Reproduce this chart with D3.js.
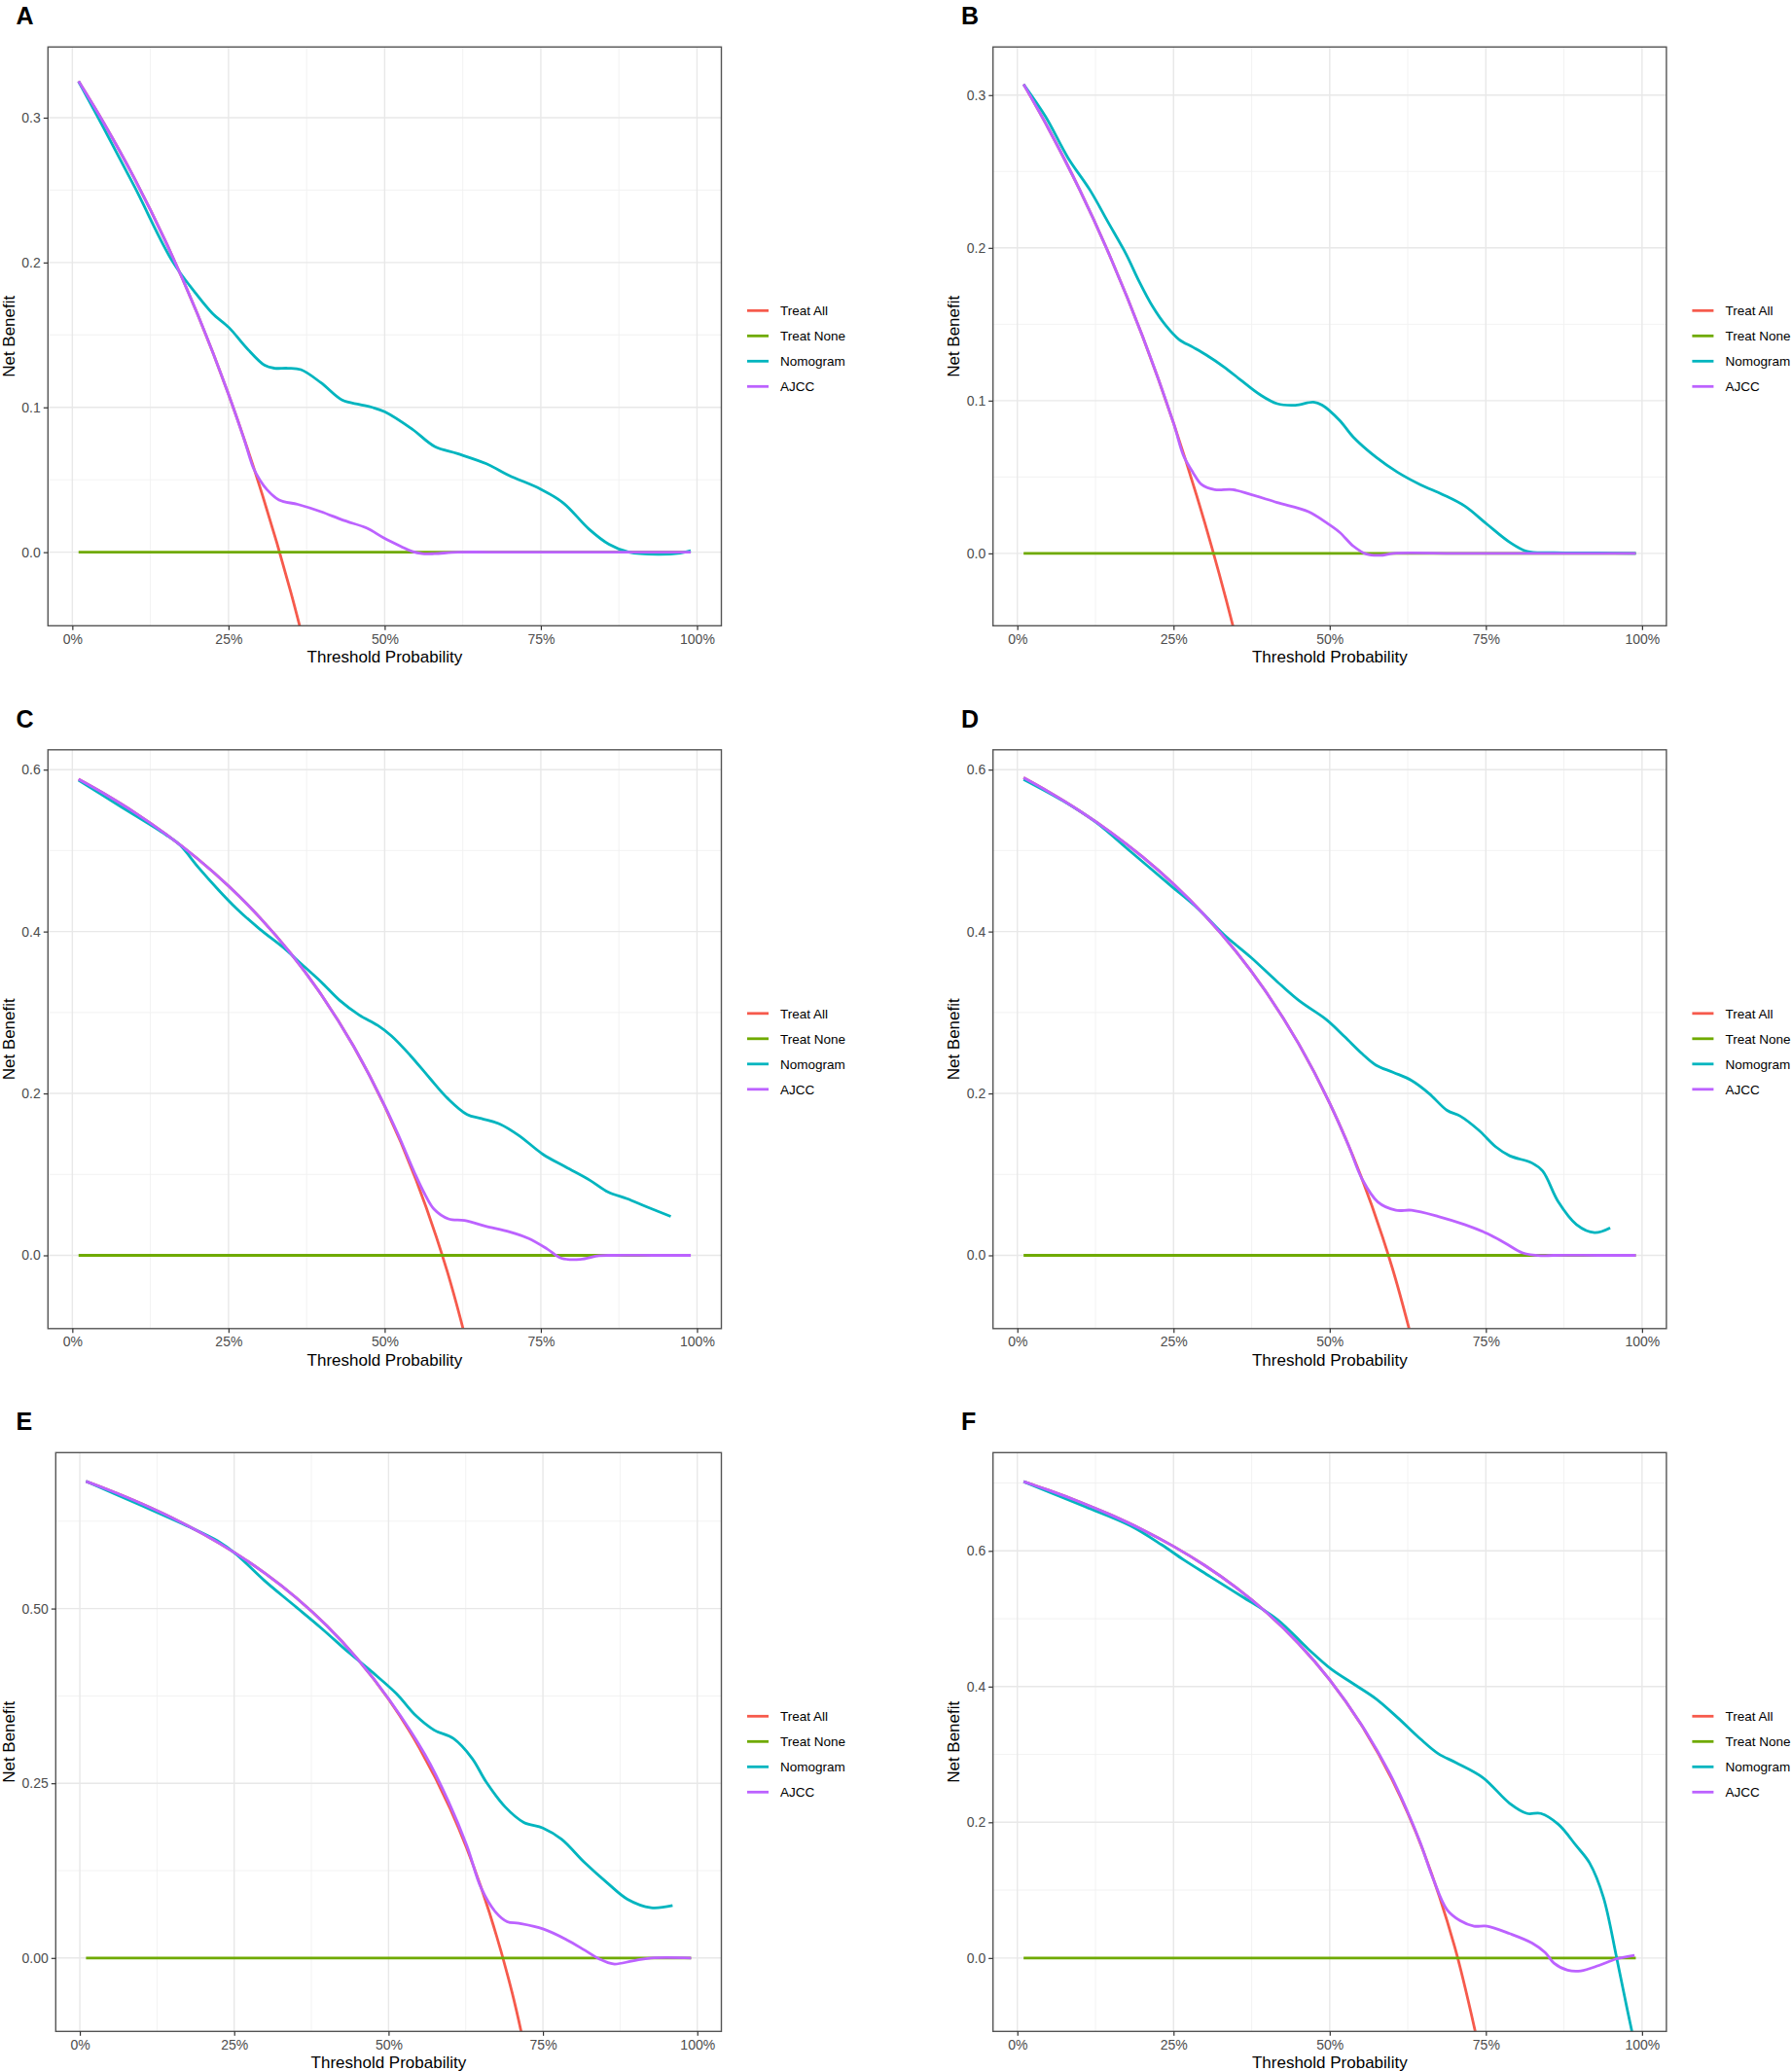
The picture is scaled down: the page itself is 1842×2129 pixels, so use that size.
<!DOCTYPE html>
<html>
<head>
    <meta charset="utf-8">
    <script src="https://cdn.jsdelivr.net/npm/d3@7"></script>
    <style>
        body { margin: 0; background: #ffffff; }
        svg { display: block; font-family: "Liberation Sans", Arial, Helvetica, sans-serif; }
        .grid-major { stroke: #e8e8e8; stroke-width: 1.4; }
        .grid-minor { stroke: #f0f0f0; stroke-width: 0.9; }
        .border { fill: none; stroke: #555555; stroke-width: 1.4; }
        .axis text { font-size: 14px; fill: #4d4d4d; }
        .axis line { stroke: #333333; stroke-width: 1.2; }
        .axis-title { font-size: 17px; fill: #000000; }
        .legend-label { font-size: 13.5px; fill: #000000; }
        .panel-tag { font-size: 25px; font-weight: bold; fill: #000000; }
        .curve { fill: none; stroke-width: 2.8; stroke-linejoin: round; stroke-linecap: butt; }
    </style>
</head>
<body>
<div id="chart"></div>
<script>
    // series shared by every panel
    var seriesNames = ['Treat All', 'Treat None', 'Nomogram', 'AJCC'];
    var seriesColors = ['#F65A4C', '#6FAA00', '#00B5BF', '#BC62FF'];

    var xTicks = [0, 0.25, 0.5, 0.75, 1];
    var xTickLabels = ['0%', '25%', '50%', '75%', '100%'];
    var xMinor = [0.125, 0.375, 0.625, 0.875];
    var xLimits = [-0.039, 1.039];

    var treatNone = [[0.01, 0], [0.99, 0]];

    // panel A
    var treatAllA = [[0.01, 0.3251], [0.05, 0.2966], [0.10, 0.2576], [0.15, 0.2139], [0.20, 0.1648],
                     [0.25, 0.1091], [0.30, 0.0454], [0.35, -0.0280], [0.40, -0.1137]];
    var nomogramA = [[0.01, 0.325], [0.05, 0.293], [0.10, 0.252], [0.16, 0.201], [0.197, 0.179],
                     [0.224, 0.165], [0.251, 0.155], [0.279, 0.141], [0.308, 0.129], [0.324, 0.127],
                     [0.345, 0.127], [0.366, 0.126], [0.398, 0.117], [0.432, 0.105], [0.46, 0.102],
                     [0.48, 0.100], [0.50, 0.097], [0.544, 0.085], [0.58, 0.073], [0.617, 0.068],
                     [0.663, 0.061], [0.699, 0.053], [0.75, 0.0435], [0.786, 0.034], [0.827, 0.016],
                     [0.859, 0.0055], [0.891, 0.0], [0.937, -0.0015], [0.973, -0.0006], [0.99, 0.001]];
    var ajccA = [[0.01, 0.3251], [0.05, 0.2966], [0.10, 0.2576], [0.15, 0.2139], [0.20, 0.1648],
                 [0.25, 0.1091], [0.275, 0.078], [0.29, 0.058], [0.30, 0.050], [0.311, 0.0435],
                 [0.331, 0.036], [0.361, 0.033], [0.398, 0.028], [0.434, 0.022], [0.471, 0.0167],
                 [0.498, 0.010], [0.526, 0.004], [0.544, 0.0005], [0.56, -0.001], [0.58, -0.001],
                 [0.617, 0], [0.70, 0], [0.80, 0], [0.90, 0], [0.99, 0]];
    var yTicksA = [0, 0.1, 0.2, 0.3];
    var yMinorA = [0.05, 0.15, 0.25];
    var yLimitsA = [-0.0508, 0.3488];

    // panel B
    var treatAllB = [[0.01, 0.3071], [0.05, 0.2779], [0.10, 0.2378], [0.15, 0.1929], [0.20, 0.1425],
                     [0.25, 0.0853], [0.30, 0.0200], [0.35, -0.0554], [0.40, -0.1433]];
    var nomogramB = [[0.01, 0.307], [0.045, 0.286], [0.081, 0.259], [0.116, 0.238], [0.145, 0.217],
                     [0.174, 0.196], [0.195, 0.178], [0.216, 0.162], [0.238, 0.149], [0.259, 0.140],
                     [0.281, 0.135], [0.302, 0.130], [0.331, 0.122], [0.359, 0.113], [0.388, 0.104],
                     [0.416, 0.098], [0.445, 0.097], [0.474, 0.099], [0.488, 0.097], [0.516, 0.087],
                     [0.538, 0.076], [0.574, 0.063], [0.609, 0.053], [0.645, 0.045], [0.681, 0.0385],
                     [0.716, 0.031], [0.752, 0.019], [0.788, 0.0073], [0.816, 0.0013], [0.859, 0.0005],
                     [0.93, 0.0003], [0.99, 0]];
    var ajccB = [[0.01, 0.3071], [0.05, 0.2779], [0.10, 0.2378], [0.15, 0.1929], [0.20, 0.1425],
                 [0.25, 0.0853], [0.266, 0.064], [0.281, 0.053], [0.295, 0.045], [0.316, 0.0417],
                 [0.345, 0.0417], [0.374, 0.0385], [0.416, 0.0333], [0.466, 0.0273], [0.495, 0.020],
                 [0.516, 0.0138], [0.538, 0.0047], [0.559, -0.0005], [0.581, -0.0013], [0.602, 0],
                 [0.70, 0], [0.80, 0], [0.90, 0], [0.99, 0]];
    var yTicksB = [0, 0.1, 0.2, 0.3];
    var yMinorB = [0.05, 0.15, 0.25];
    var yLimitsB = [-0.0474, 0.3315];

    // panel C
    var treatAllC = [[0.01, 0.5881], [0.05, 0.5707], [0.10, 0.5469], [0.15, 0.5202], [0.20, 0.4903],
                     [0.25, 0.4563], [0.30, 0.4174], [0.35, 0.3726], [0.40, 0.3203], [0.45, 0.2586],
                     [0.50, 0.1844], [0.55, 0.0938], [0.60, -0.0195], [0.65, -0.1651]];
    var nomogramC = [[0.01, 0.587], [0.074, 0.556], [0.149, 0.520], [0.172, 0.507], [0.202, 0.479],
                     [0.232, 0.453], [0.262, 0.429], [0.300, 0.403], [0.338, 0.380], [0.368, 0.359],
                     [0.398, 0.338], [0.428, 0.315], [0.459, 0.297], [0.489, 0.284], [0.511, 0.271],
                     [0.541, 0.247], [0.572, 0.219], [0.602, 0.193], [0.632, 0.174], [0.655, 0.169],
                     [0.685, 0.162], [0.715, 0.148], [0.753, 0.125], [0.790, 0.109], [0.828, 0.093],
                     [0.858, 0.078], [0.888, 0.070], [0.919, 0.060], [0.958, 0.048]];
    var ajccC = [[0.01, 0.5881], [0.05, 0.5707], [0.10, 0.5469], [0.15, 0.5202], [0.20, 0.4903],
                 [0.25, 0.4563], [0.30, 0.4174], [0.35, 0.3726], [0.40, 0.3203], [0.45, 0.2586],
                 [0.49, 0.2005], [0.52, 0.152], [0.549, 0.100], [0.564, 0.076], [0.579, 0.057],
                 [0.602, 0.045], [0.628, 0.043], [0.662, 0.036], [0.70, 0.029], [0.73, 0.021],
                 [0.76, 0.008], [0.783, -0.0036], [0.813, -0.005], [0.843, -0.0005], [0.866, 0],
                 [0.93, 0], [0.99, 0]];
    var yTicksC = [0, 0.2, 0.4, 0.6];
    var yMinorC = [0.1, 0.3, 0.5];
    var yLimitsC = [-0.0905, 0.6245];

    // panel D
    var treatAllD = [[0.01, 0.5899], [0.05, 0.5726], [0.10, 0.5489], [0.15, 0.5224], [0.20, 0.4925],
                     [0.25, 0.4587], [0.30, 0.4200], [0.35, 0.3754], [0.40, 0.3233], [0.45, 0.2618],
                     [0.50, 0.1880], [0.55, 0.0978], [0.60, -0.0150], [0.65, -0.1600]];
    var nomogramD = [[0.01, 0.588], [0.074, 0.561], [0.124, 0.536], [0.181, 0.499], [0.245, 0.457],
                     [0.288, 0.429], [0.331, 0.396], [0.374, 0.368], [0.416, 0.338], [0.452, 0.314],
                     [0.495, 0.291], [0.524, 0.270], [0.552, 0.249], [0.574, 0.235], [0.602, 0.226],
                     [0.631, 0.216], [0.659, 0.200], [0.688, 0.179], [0.709, 0.172], [0.738, 0.155],
                     [0.766, 0.134], [0.788, 0.123], [0.824, 0.114], [0.841, 0.104], [0.866, 0.066],
                     [0.895, 0.038], [0.924, 0.028], [0.949, 0.034]];
    var ajccD = [[0.01, 0.5899], [0.05, 0.5726], [0.10, 0.5489], [0.15, 0.5224], [0.20, 0.4925],
                 [0.25, 0.4587], [0.30, 0.4200], [0.35, 0.3754], [0.40, 0.3233], [0.45, 0.2618],
                 [0.50, 0.188], [0.53, 0.136], [0.552, 0.094], [0.577, 0.066], [0.606, 0.0557],
                 [0.631, 0.0557], [0.674, 0.048], [0.716, 0.038], [0.752, 0.027], [0.781, 0.015],
                 [0.809, 0.003], [0.838, -0.0005], [0.859, 0], [0.93, 0], [0.99, 0]];
    var yTicksD = [0, 0.2, 0.4, 0.6];
    var yMinorD = [0.1, 0.3, 0.5];
    var yLimitsD = [-0.0905, 0.6245];

    // panel E
    var treatAllE = [[0.01, 0.6820], [0.05, 0.6686], [0.10, 0.6502], [0.15, 0.6297], [0.20, 0.6065],
                     [0.25, 0.5803], [0.30, 0.5503], [0.35, 0.5157], [0.40, 0.4753], [0.45, 0.4276],
                     [0.50, 0.3704], [0.55, 0.3004], [0.60, 0.2130], [0.65, 0.1006], [0.70, -0.0493],
                     [0.75, -0.2592]];
    var nomogramE = [[0.01, 0.682], [0.101, 0.647], [0.177, 0.617], [0.223, 0.597], [0.253, 0.578],
                     [0.299, 0.540], [0.345, 0.506], [0.391, 0.472], [0.437, 0.436], [0.475, 0.408],
                     [0.513, 0.378], [0.544, 0.347], [0.574, 0.326], [0.605, 0.314], [0.635, 0.286],
                     [0.658, 0.252], [0.689, 0.216], [0.719, 0.194], [0.750, 0.186], [0.780, 0.170],
                     [0.818, 0.136], [0.856, 0.106], [0.887, 0.084], [0.925, 0.072], [0.960, 0.075]];
    var ajccE = [[0.01, 0.6820], [0.05, 0.6686], [0.10, 0.6502], [0.15, 0.6297], [0.20, 0.6065],
                 [0.25, 0.5803], [0.30, 0.5503], [0.35, 0.5157], [0.40, 0.4753], [0.45, 0.4276],
                 [0.50, 0.3710], [0.559, 0.291], [0.597, 0.224], [0.627, 0.160], [0.650, 0.100],
                 [0.673, 0.066], [0.692, 0.052], [0.711, 0.0495], [0.750, 0.0416], [0.788, 0.0263],
                 [0.818, 0.011], [0.841, -0.0012], [0.864, -0.0086], [0.895, -0.0043], [0.925, 0],
                 [0.99, 0]];
    var yTicksE = [0, 0.25, 0.5];
    var yMinorE = [0.125, 0.375, 0.625];
    var yLimitsE = [-0.1051, 0.7231];

    // panel F
    var treatAllF = [[0.01, 0.7020], [0.05, 0.6895], [0.10, 0.6722], [0.15, 0.6529], [0.20, 0.6313],
                     [0.25, 0.6067], [0.30, 0.5786], [0.35, 0.5462], [0.40, 0.5083], [0.45, 0.4636],
                     [0.50, 0.4100], [0.55, 0.3444], [0.60, 0.2625], [0.65, 0.1571], [0.70, 0.0167],
                     [0.75, -0.1800]];
    var nomogramF = [[0.01, 0.702], [0.109, 0.665], [0.181, 0.637], [0.231, 0.609], [0.266, 0.587],
                     [0.309, 0.562], [0.359, 0.533], [0.416, 0.499], [0.466, 0.455], [0.502, 0.426],
                     [0.538, 0.404], [0.574, 0.382], [0.609, 0.354], [0.645, 0.323], [0.674, 0.301],
                     [0.702, 0.288], [0.745, 0.266], [0.788, 0.228], [0.816, 0.213], [0.838, 0.213],
                     [0.866, 0.197], [0.895, 0.165], [0.916, 0.140], [0.938, 0.090], [0.959, 0.002],
                     [0.975, -0.07], [0.99, -0.135]];
    var ajccF = [[0.01, 0.7020], [0.05, 0.6895], [0.10, 0.6722], [0.15, 0.6529], [0.20, 0.6313],
                 [0.25, 0.6067], [0.30, 0.5786], [0.35, 0.5462], [0.40, 0.5083], [0.45, 0.4636],
                 [0.50, 0.410], [0.55, 0.345], [0.595, 0.274], [0.624, 0.217], [0.645, 0.170],
                 [0.666, 0.116], [0.688, 0.071], [0.709, 0.055], [0.731, 0.047], [0.752, 0.047],
                 [0.788, 0.036], [0.824, 0.022], [0.845, 0.008], [0.859, -0.0075], [0.881, -0.018],
                 [0.902, -0.019], [0.931, -0.011], [0.959, -0.0013], [0.988, 0.004]];
    var yTicksF = [0, 0.2, 0.4, 0.6];
    var yMinorF = [0.1, 0.3, 0.5, 0.7];
    var yLimitsF = [-0.1082, 0.7448];

    var panels = [
        { tag: 'A', col: 0, row: 0, left: 49.3, lines: [treatAllA, treatNone, nomogramA, ajccA], yTicks: yTicksA, yMinor: yMinorA, yLimits: yLimitsA, fmt: '.1f' },
        { tag: 'B', col: 1, row: 0, left: 49.3, lines: [treatAllB, treatNone, nomogramB, ajccB], yTicks: yTicksB, yMinor: yMinorB, yLimits: yLimitsB, fmt: '.1f' },
        { tag: 'C', col: 0, row: 1, left: 49.3, lines: [treatAllC, treatNone, nomogramC, ajccC], yTicks: yTicksC, yMinor: yMinorC, yLimits: yLimitsC, fmt: '.1f' },
        { tag: 'D', col: 1, row: 1, left: 49.3, lines: [treatAllD, treatNone, nomogramD, ajccD], yTicks: yTicksD, yMinor: yMinorD, yLimits: yLimitsD, fmt: '.1f' },
        { tag: 'E', col: 0, row: 2, left: 57.3, lines: [treatAllE, treatNone, nomogramE, ajccE], yTicks: yTicksE, yMinor: yMinorE, yLimits: yLimitsE, fmt: '.2f' },
        { tag: 'F', col: 1, row: 2, left: 49.3, lines: [treatAllF, treatNone, nomogramF, ajccF], yTicks: yTicksF, yMinor: yMinorF, yLimits: yLimitsF, fmt: '.1f' }
    ];

    var W = 1842, H = 2129;
    var colLeft = [0, 971.4];
    var rowTop = [48.3, 770.8, 1493.3];
    var boxRight = 741.5;
    var boxHeight = 595;

    var svg = d3.select('#chart').append('svg')
        .attr('width', W)
        .attr('height', H);

    var defs = svg.append('defs');

    panels.forEach(function(p, i)
    {
        var x0 = colLeft[p.col] + p.left;
        var x1 = colLeft[p.col] + boxRight;
        var y0 = rowTop[p.row];
        var y1 = y0 + boxHeight;

        var x = d3.scaleLinear().domain(xLimits).range([x0, x1]);
        var y = d3.scaleLinear().domain(p.yLimits).range([y1, y0]);

        var g = svg.append('g');

        // panel tag
        g.append('text')
            .attr('class', 'panel-tag')
            .attr('x', colLeft[p.col] + 16.5)
            .attr('y', y0 - 23.3)
            .text(p.tag);

        // grid
        g.selectAll('.vminor').data(xMinor).enter().append('line')
            .attr('class', 'grid-minor')
            .attr('x1', x).attr('x2', x).attr('y1', y0).attr('y2', y1);
        g.selectAll('.hminor').data(p.yMinor).enter().append('line')
            .attr('class', 'grid-minor')
            .attr('x1', x0).attr('x2', x1).attr('y1', y).attr('y2', y);
        g.selectAll('.vmajor').data(xTicks).enter().append('line')
            .attr('class', 'grid-major')
            .attr('x1', x).attr('x2', x).attr('y1', y0).attr('y2', y1);
        g.selectAll('.hmajor').data(p.yTicks).enter().append('line')
            .attr('class', 'grid-major')
            .attr('x1', x0).attr('x2', x1).attr('y1', y).attr('y2', y);

        // curves, clipped to the panel
        var clipId = 'clip' + i;
        defs.append('clipPath').attr('id', clipId)
            .append('rect')
            .attr('x', x0).attr('y', y0)
            .attr('width', x1 - x0).attr('height', y1 - y0);

        var line = d3.line()
            .x(function(d) { return x(d[0]); })
            .y(function(d) { return y(d[1]); })
            .curve(d3.curveCatmullRom.alpha(0.5));

        var plot = g.append('g').attr('clip-path', 'url(#' + clipId + ')');
        plot.selectAll('.curve').data(p.lines).enter().append('path')
            .attr('class', 'curve')
            .attr('stroke', function(d, k) { return seriesColors[k]; })
            .attr('d', line);

        g.append('rect')
            .attr('class', 'border')
            .attr('x', x0).attr('y', y0)
            .attr('width', x1 - x0).attr('height', y1 - y0);

        // axes
        var xAxis = d3.axisBottom(x)
            .tickValues(xTicks)
            .tickFormat(function(d, k) { return xTickLabels[k]; })
            .tickSize(4.5)
            .tickPadding(4);
        g.append('g')
            .attr('class', 'axis')
            .attr('transform', 'translate(0,' + y1 + ')')
            .call(xAxis)
            .call(function(a) { a.select('.domain').remove(); });

        var yAxis = d3.axisLeft(y)
            .tickValues(p.yTicks)
            .tickFormat(d3.format(p.fmt))
            .tickSize(4.5)
            .tickPadding(3);
        g.append('g')
            .attr('class', 'axis')
            .attr('transform', 'translate(' + x0 + ',0)')
            .call(yAxis)
            .call(function(a) { a.select('.domain').remove(); });

        g.selectAll('.axis').attr('font-family', null).attr('font-size', null);

        // axis titles
        g.append('text')
            .attr('class', 'axis-title')
            .attr('text-anchor', 'middle')
            .attr('x', (x0 + x1) / 2)
            .attr('y', y1 + 37.7)
            .text('Threshold Probability');

        g.append('text')
            .attr('class', 'axis-title')
            .attr('text-anchor', 'middle')
            .attr('transform', 'translate(' + (colLeft[p.col] + 14.5) + ',' + ((y0 + y1) / 2) + ') rotate(-90)')
            .text('Net Benefit');

        // legend
        var legend = g.append('g')
            .attr('transform', 'translate(' + (colLeft[p.col] + 768) + ',' + (y0 + 271) + ')');
        var item = legend.selectAll('.item').data(seriesNames).enter().append('g')
            .attr('transform', function(d, k) { return 'translate(0,' + (k * 26) + ')'; });
        item.append('line')
            .attr('x1', 0).attr('x2', 22)
            .attr('y1', 0).attr('y2', 0)
            .attr('stroke-width', 2.8)
            .attr('stroke', function(d, k) { return seriesColors[k]; });
        item.append('text')
            .attr('class', 'legend-label')
            .attr('x', 34)
            .attr('dy', '0.35em')
            .text(function(d) { return d; });
    });
</script>
</body>
</html>
